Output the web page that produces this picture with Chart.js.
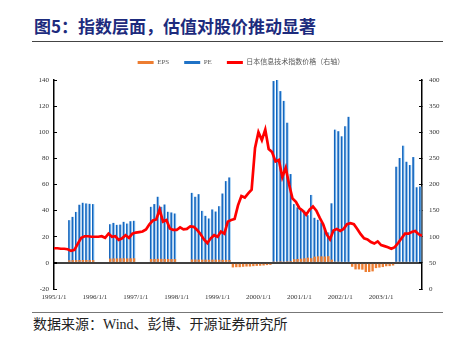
<!DOCTYPE html>
<html>
<head>
<meta charset="utf-8">
<script src="https://cdn.jsdelivr.net/npm/chart.js@4.4.1/dist/chart.umd.min.js"></script>
<style>
  body { margin: 0; background: #fff; width: 449px; height: 350px; position: relative; overflow: hidden; }
  #title { position: absolute; left: 34px; top: 13px; font-family: "Noto Sans CJK SC", sans-serif; font-weight: bold; font-size: 17px; color: #1d2b7d; white-space: nowrap; }
  .rule { position: absolute; left: 32px; width: 411px; height: 1px; background: #444; }
  #source { position: absolute; left: 33px; top: 313px; font-family: "Liberation Serif", "Noto Sans CJK SC", serif; font-size: 14px; color: #222; white-space: nowrap; }
  #chartBox { position: absolute; left: 0; top: 41px; }
</style>
</head>
<body>
<div id="title">图5：指数层面，估值对股价推动显著</div>
<div class="rule" style="top:41px"></div>
<div id="chartBox"><canvas id="myChart" width="449" height="270"></canvas></div>
<div class="rule" style="top:312px; background:#777"></div>
<div id="source">数据来源：Wind、彭博、开源证券研究所</div>
<script>
// month index 0 = 1995/1 ... 107 = 2003/12
const yearLabels = ['1995/1/1', '1996/1/1', '1997/1/1', '1998/1/1', '1999/1/1', '2000/1/1', '2001/1/1', '2002/1/1', '2003/1/1'];

const peValues = [
  null, null, null, null, 32.7, 35.2, 39, 44.5, 46, 45.5, 45.2, 45,
  null, null, null, null, 29.6, 30.6, 29.1, 29.3, 31.4, 30.1, 31.9, 32.2,
  null, null, null, null, 42.9, 45, 50.6, 42.9, 44.7, 39.1, 38.6, 37.8,
  null, null, null, null, 53.6, 50.6, 52.6, 39.8, 36, 34, 40.9, 39.3, 43.4, 53.1, 62.6, 65.4,
  null, null, null, null, null, null, null, null, null, null, null, null,
  139.2, 140.5, 131.5, 124, 107.3, 68, 45, 42.5, 41.5, 40, 36.5, 52,
  34.5, 33, 31, 26.5, 23.3, 45.6, 102, 100.8, 96.9, 104.6, 111.8,
  null, null, null, null, null, null, null, null, null, null, null, null, null,
  73.6, 80.3, 89.7, 77.4, 74.9, 81, 57.9, 58.5
];

const epsValues = [
  null, null, null, null, 2, 2.1, 2.1, 2.2, 2.2, 2.2, 2.1, 2.1,
  null, null, null, null, 3.3, 3.4, 3.4, 3.5, 3.5, 3.4, 3.5, 3.5,
  null, null, null, null, 3, 3, 3.1, 3.1, 3, 3, 2.9, 2.9,
  null, null, null, null, 2.6, 2.6, 2.5, 2.5, 2.5, 2.4, 2.5, 2.5, 2.4, 2.3, 2.3, 2.2,
  -3.5, -3.3, -3.3, -3, -2.8, -2.8, -2.5, -2.3, -2.2, -2, -1.7, -1.5,
  1, 1, 1.2, 1, 1.2, 1.3, 2.8, 3, 3.2, 3.5, 4, 3.6,
  4.8, 5, 5, 4.9, 5.1, 2.5, 1, 0.9, 0.8, 0.8, 0.8,
  -3, -5, -5, -5.2, -7, -7, -6.5, -4, -3.6, -3.2, -2.6, -2.5, -2,
  0.6, 0.6, 0.7, 0.7, 0.8, 0.8, 0.8, 0.8
];

// 日本信息技术指数价格 (right axis)
const priceValues = [
  78, 78, 77, 77, 76, 73, 75, 87, 98, 101, 101, 100,
  100, 100, 101, 98, 106, 100, 101, 94, 97, 103, 98, 106,
  108, 109, 110, 114, 124, 131, 133, 152, 129, 132, 116, 113,
  113, 118, 114, 115, 120, 119, 113, 105, 95, 88, 97, 103,
  100, 110, 106, 129, 132, 134, 160, 178, 175, 183, 190, 270,
  300, 285, 305, 268, 262, 244, 247, 214, 232, 200, 173, 167,
  155, 150, 142, 152, 158, 150, 136, 124, 105, 95, 112, 115,
  111, 115, 124, 126, 124, 115, 105, 97, 95, 90, 87, 91,
  84, 82, 80, 77, 80, 88, 97, 106, 106, 109, 111, 105, 102
];

const tickFont = { family: "'Liberation Serif', serif", size: 7 };

// blue bars: dark left side, light right side, like the original shading
function peColor(c) {
  const chart = c.chart;
  const xs = chart.scales && chart.scales.x;
  if (!xs || c.dataIndex === undefined || !xs.width) return '#1f72c6';
  const px = xs.getPixelForValue(c.dataIndex + 0.5);
  const g = chart.ctx.createLinearGradient(px - 1.2, 0, px + 1.2, 0);
  g.addColorStop(0, '#0e5cb4');
  g.addColorStop(0.5, '#1a6cc4');
  g.addColorStop(0.62, '#5ea4e4');
  g.addColorStop(1, '#9ccbf2');
  return g;
}

// make legend taller so the plot starts lower than the legend text
const legendGap = {
  id: 'legendGap',
  beforeLayout: function (chart) {
    const lg = chart.legend;
    if (lg && !lg._gapDone) {
      const fit = lg.fit;
      lg.fit = function () { fit.call(this); this.height += 4; };
      lg._gapDone = true;
    }
  }
};

const ctx = document.getElementById('myChart').getContext('2d');
const myChart = new Chart(ctx, {
  type: 'bar',
  data: {
    datasets: [{
      label: 'EPS',
      data: epsValues.map((v, i) => ({ x: i + 0.5, y: v })),
      backgroundColor: '#ED7D31',
      grouped: false,
      categoryPercentage: 1,
      barPercentage: 0.7,
      order: 1
    }, {
      label: 'PE',
      data: peValues.map((v, i) => ({ x: i + 0.5, y: v })),
      backgroundColor: peColor,
      grouped: false,
      categoryPercentage: 1,
      barPercentage: 0.7,
      order: 2
    }, {
      type: 'line',
      label: '日本信息技术指数价格（右轴）',
      data: priceValues.map((v, i) => ({ x: i, y: v })),
      yAxisID: 'y1',
      borderColor: '#ff0000',
      backgroundColor: '#ff0000',
      borderWidth: 2.7,
      pointRadius: 0,
      order: 0
    }]
  },
  plugins: [legendGap],
  options: {
    responsive: false,
    animation: false,
    layout: { padding: { left: 33, right: 0, top: 3, bottom: 0 } },
    plugins: {
      tooltip: { enabled: false },
      legend: {
        position: 'top',
        labels: {
          boxWidth: 16,
          boxHeight: 3,
          padding: 15,
          color: '#595959',
          font: { family: "'Liberation Serif', 'Noto Sans CJK SC', serif", size: 7 },
          sort: (a, b) => a.datasetIndex - b.datasetIndex,
          generateLabels: function (chart) {
            const items = Chart.defaults.plugins.legend.labels.generateLabels(chart);
            items.forEach(function (it) {
              it.lineWidth = 0;
              it.strokeStyle = 'rgba(0,0,0,0)';
              if (it.datasetIndex === 1) it.fillStyle = '#1f72c6';
            });
            return items;
          }
        }
      }
    },
    scales: {
      x: {
        type: 'linear',
        min: 0,
        max: 108,
        offset: false,
        border: { display: false },
        grid: { display: false, drawTicks: false },
        afterBuildTicks: function (scale) {
          scale.ticks = yearLabels.map((_, k) => ({ value: k * 12 }));
        },
        afterFit: function (scale) { scale.height = 22; },
        ticks: {
          autoSkip: false,
          maxRotation: 0,
          padding: 4,
          color: '#333',
          font: tickFont,
          callback: function (value) { return yearLabels[value / 12]; }
        }
      },
      y: {
        position: 'left',
        min: -20,
        max: 140,
        afterFit: function (scale) { scale.width = 21; },
        border: { display: true, color: '#000', width: 1.5 },
        grid: {
          drawTicks: true,
          tickLength: -3,
          tickColor: '#000',
          color: function (c) { return c.tick && c.tick.value === 0 ? '#404040' : 'rgba(0,0,0,0)'; },
          lineWidth: function (c) { return c.tick && c.tick.value === 0 ? 2 : 1; }
        },
        ticks: { stepSize: 20, padding: 8, color: '#333', font: tickFont }
      },
      y1: {
        position: 'right',
        min: 0,
        max: 400,
        afterFit: function (scale) { scale.width = 27; },
        border: { display: true, color: '#000', width: 1.5 },
        grid: { drawOnChartArea: false, tickLength: -3, tickColor: '#000' },
        ticks: { stepSize: 50, padding: 10, color: '#333', font: tickFont }
      }
    }
  }
});
</script>
</body>
</html>
